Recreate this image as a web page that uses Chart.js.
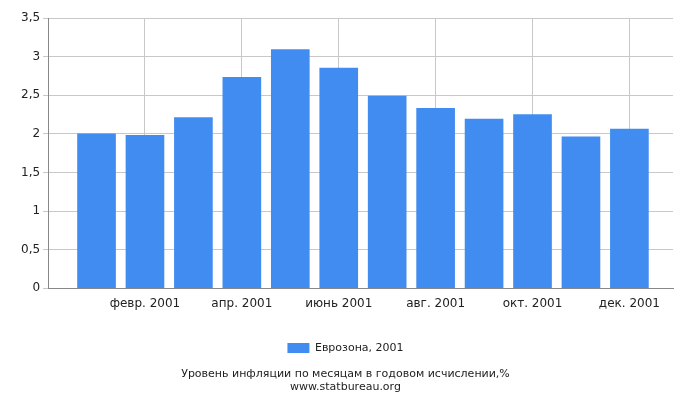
<!DOCTYPE html>
<html><head><meta charset="utf-8">
<script src="https://cdn.jsdelivr.net/npm/chart.js@4"></script>
<style>html,body{margin:0;padding:0;background:#fff}#w{width:700px;height:400px}</style>
</head><body><div id="w"><canvas id="c"></canvas></div>
<script>
const months = ["янв. 2001","февр. 2001","март 2001","апр. 2001","май 2001","июнь 2001","июль 2001","авг. 2001","сент. 2001","окт. 2001","нояб. 2001","дек. 2001"];
const values = [2.0,1.98,2.21,2.73,3.09,2.85,2.49,2.33,2.19,2.25,1.96,2.06];
const seriesName = "Еврозона, 2001";
const yTicks = [0,0.5,1,1.5,2,2.5,3,3.5];
const xTickMonths = [2,4,6,8,10,12];
Chart.defaults.font.family = "DejaVu Sans";
Chart.defaults.font.size = 12;
Chart.defaults.color = "#222";
new Chart(document.getElementById('c'), {
  type: 'bar',
  data: { datasets: [{ label: seriesName, data: values.map((v,i)=>({x:i+1,y:v})), backgroundColor: '#418cf0', barThickness: 38 }] },
  options: {
    responsive: true, maintainAspectRatio: false, animation: false,
    layout: { padding: { left: 18, right: 27, top: 18, bottom: 6 } },
    scales: {
      x: { type: 'linear', min: 0, max: 12.9, offset: false,
        afterBuildTicks: a => { a.ticks = [0, ...xTickMonths].map(v=>({value:v})); },
        ticks: { autoSkip: false, maxRotation: 0, callback: v => v===0 ? '' : months[v-1], font:{size:12}, padding: 8 },
        grid: { color: '#c8c8c8', tickLength: 0, offset: false }, border: { color: '#888' } },
      y: { min: 0, max: 3.5,
        afterBuildTicks: a => { a.ticks = yTicks.map(v=>({value:v})); },
        ticks: { callback: v => String(v).replace('.', ','), padding: 3 },
        grid: { color: '#c8c8c8', tickLength: 5 }, border: { color: '#888' } }
    },
    plugins: {
      legend: { position: 'bottom', labels: { boxWidth: 22, boxHeight: 10, font:{size:11}, padding: 24 } },
      title: { display: true, position: 'bottom', text: ['Уровень инфляции по месяцам в годовом исчислении,%','www.statbureau.org'], font:{size:11, weight:'normal'}, padding: {top: 4, bottom: 0}, color:'#222' },
      tooltip: { enabled: false }
    }
  }
});
</script></body></html>
